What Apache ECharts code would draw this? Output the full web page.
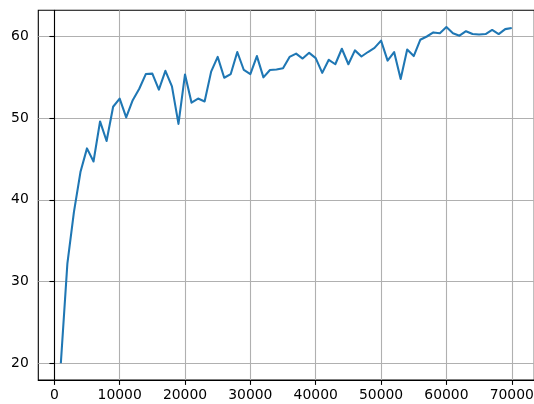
<!DOCTYPE html>
<html>
<head>
<meta charset="utf-8">
<script src="https://cdn.jsdelivr.net/npm/echarts@6/dist/echarts.min.js"></script>
<style>
html,body{margin:0;padding:0;background:#fff;}
#chart{width:534px;height:404px;}
</style>
</head>
<body>
<div id="chart"></div>
<script>
const steps = [1000,2000,3000,4000,5000,6000,7000,8000,9000,10000,11000,12000,13000,14000,15000,16000,17000,18000,19000,20000,21000,22000,23000,24000,25000,26000,27000,28000,29000,30000,31000,32000,33000,34000,35000,36000,37000,38000,39000,40000,41000,42000,43000,44000,45000,46000,47000,48000,49000,50000,51000,52000,53000,54000,55000,56000,57000,58000,59000,60000,61000,62000,63000,64000,65000,66000,67000,68000,69000,70000];
const values = [20.0,32.2,38.5,43.4,46.3,44.7,49.6,47.2,51.4,52.4,50.1,52.2,53.6,55.4,55.45,53.5,55.8,53.9,49.3,55.35,51.9,52.4,52.05,55.7,57.5,54.95,55.4,58.1,55.9,55.4,57.6,55.0,55.9,55.96,56.1,57.5,57.9,57.3,58.0,57.35,55.55,57.15,56.6,58.5,56.6,58.3,57.55,58.1,58.6,59.5,57.05,58.1,54.8,58.4,57.6,59.6,60.0,60.5,60.4,61.15,60.4,60.1,60.65,60.3,60.25,60.3,60.8,60.3,60.9,61.05];
const xTicks = [0,10000,20000,30000,40000,50000,60000,70000];
const yTicks = [20,30,40,50,60];

const xs = steps, ys = values;
const xMinD = Math.min(...xs), xMaxD = Math.max(...xs);
const yMinD = Math.min(...ys), yMaxD = Math.max(...ys);
const xPad = (xMaxD - xMinD) * 0.05, yPad = (yMaxD - yMinD) * 0.05;

const font = '"DejaVu Sans", sans-serif';
const chart = echarts.init(document.getElementById('chart'), null, {renderer: 'canvas'});
chart.setOption({
  animation: false,
  grid: {left: 38.3, top: 10.3, right: -0.3, bottom: 24, outerBoundsMode: 'none', containLabel: false,
         show: true, borderColor: '#000', borderWidth: 1.1, backgroundColor: 'transparent'},
  xAxis: {
    type: 'value',
    min: xMinD - xPad, max: xMaxD + xPad,
    axisLine: {show: true, lineStyle: {color: '#000', width: 1.1}},
    axisTick: {show: true, inside: false, length: 4.9, lineStyle: {color: '#000', width: 1.1}, customValues: xTicks},
    axisLabel: {show: true, customValues: xTicks, color: '#000', fontSize: 13.9, fontFamily: font, margin: 8.5,
                formatter: v => String(Math.round(v)), showMinLabel: true, showMaxLabel: true, hideOverlap: false},
    splitLine: {show: true, lineStyle: {color: '#b0b0b0', width: 1.1}}
  },
  yAxis: {
    type: 'value',
    min: yMinD - yPad, max: yMaxD + yPad,
    axisLine: {show: true, lineStyle: {color: '#000', width: 1.1}},
    axisTick: {show: true, inside: false, length: 4.9, lineStyle: {color: '#000', width: 1.1}, customValues: yTicks},
    axisLabel: {show: true, customValues: yTicks, color: '#000', fontSize: 13.9, fontFamily: font, margin: 9.5,
                formatter: v => String(Math.round(v))},
    splitLine: {show: true, lineStyle: {color: '#b0b0b0', width: 1.1}}
  },
  series: [{
    type: 'line',
    data: xs.map((x, i) => [x, ys[i]]),
    showSymbol: false,
    symbol: 'none',
    lineStyle: {color: '#1f77b4', width: 2.08, cap: 'butt', join: 'round'},
    itemStyle: {color: '#1f77b4'},
    z: 3
  }]
});
</script>
</body>
</html>
